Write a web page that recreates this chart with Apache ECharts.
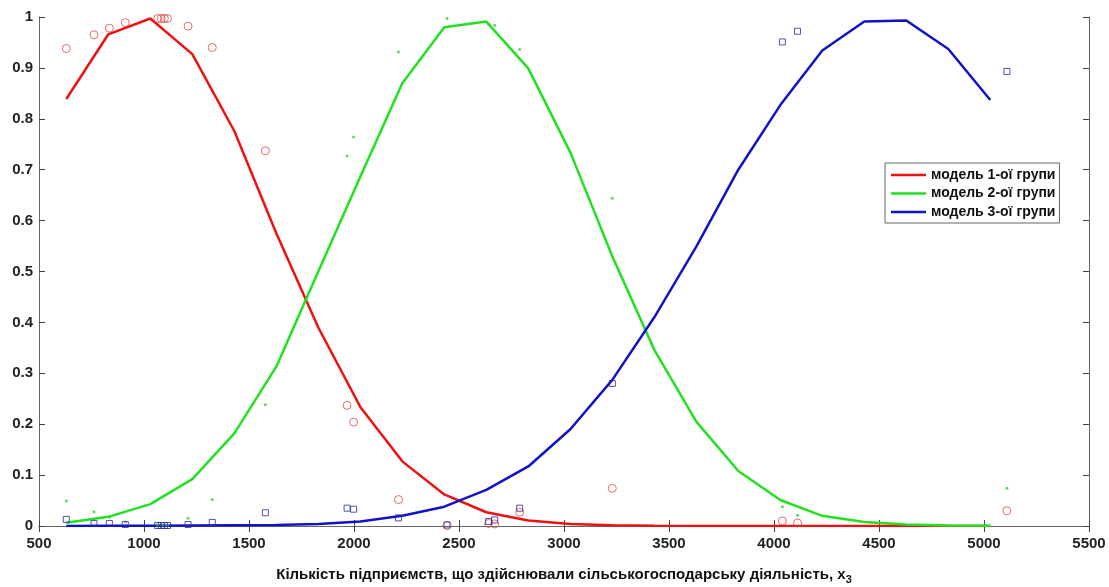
<!DOCTYPE html>
<html>
<head>
<meta charset="utf-8">
<title>model membership</title>
<script src="https://cdn.jsdelivr.net/npm/echarts@6/dist/echarts.min.js"></script>
<style>
  html, body { margin: 0; padding: 0; background: #fff; }
  #chart { width: 1109px; height: 587px; }
</style>
</head>
<body>
<div id="chart"></div>
<script>
// model curves, evaluated on a 200-step grid
var GRID_X = [630, 830, 1030, 1230, 1430, 1630, 1830, 2030, 2230, 2430, 2630, 2830,
  3030, 3230, 3430, 3630, 3830, 4030, 4230, 4430, 4630, 4830, 5030];
var MODEL_1 = [0.839, 0.966, 0.997, 0.927, 0.776, 0.575, 0.390, 0.234, 0.127, 0.062, 0.027, 0.011,
  0.004, 0.0015, 0.0005, 0.0002, 0.0001, 0, 0, 0, 0, 0, 0];
var MODEL_2 = [0.0065, 0.018, 0.043, 0.092, 0.182, 0.313, 0.500, 0.686, 0.870, 0.980, 0.991, 0.899,
  0.734, 0.530, 0.346, 0.205, 0.108, 0.051, 0.020, 0.008, 0.003, 0.001, 0.0005];
var MODEL_3 = [0.0002, 0.0003, 0.0005, 0.001, 0.0015, 0.002, 0.004, 0.009, 0.020, 0.038, 0.071, 0.117,
  0.190, 0.287, 0.410, 0.549, 0.700, 0.827, 0.934, 0.991, 0.993, 0.937, 0.837];

// observed memberships
var OBS_X = [630, 762, 835, 911, 1065, 1082, 1097, 1112, 1210, 1325, 1578, 1967, 1998, 2212,
  2443, 2641, 2670, 2789, 3230, 4040, 4112, 5109];
var OBS_1 = [0.938, 0.965, 0.978, 0.989, 0.997, 0.997, 0.997, 0.997, 0.982, 0.940, 0.737, 0.237,
  0.204, 0.052, 0.001, 0.005, 0.004, 0.027, 0.074, 0.010, 0.006, 0.030];
var OBS_2 = [0.049, 0.028, 0.017, 0.008, 0.002, 0.002, 0.002, 0.002, 0.015, 0.052, 0.238, 0.727,
  0.764, 0.931, 0.997, 0.986, 0.984, 0.936, 0.644, 0.038, 0.021, 0.074];
var OBS_3 = [0.013, 0.005, 0.005, 0.003, 0.001, 0.001, 0.001, 0.001, 0.003, 0.007, 0.026, 0.035,
  0.033, 0.016, 0.002, 0.009, 0.012, 0.035, 0.280, 0.951, 0.972, 0.893];

var SERIES_NAMES = ['модель 1-ої групи', 'модель 2-ої групи', 'модель 3-ої групи'];
var X_NAME = 'Кількість підприємств, що здійснювали сільськогосподарську діяльність, x{s|3}';

var FONT = 'Liberation Sans, Arial, sans-serif';
var RED = '#ee1111', GREEN = '#22e022', BLUE = '#1212c8';

function pairs(xs, ys) {
  return xs.map(function (x, i) { return [x, ys[i]]; });
}

var chart = echarts.init(document.getElementById('chart'), null, { renderer: 'canvas' });

var tickStyle = { inside: true, length: 6, lineStyle: { color: '#444', width: 1 } };
var lineAx = { lineStyle: { color: '#666', width: 1 } };
var labelStyle = { fontFamily: FONT, fontWeight: 'bold', fontSize: 15, color: '#222' };

function modelLine(name, data, color) {
  return {
    name: name, type: 'line', data: data, symbol: 'none', z: 3,
    lineStyle: { color: color, width: 2.5 }, itemStyle: { color: color }
  };
}

chart.setOption({
  animation: false,
  backgroundColor: '#fff',
  grid: { left: 39, right: 20, top: 17, bottom: 61, containLabel: false, outerBoundsMode: 'none' },
  legend: {
    data: SERIES_NAMES,
    orient: 'vertical',
    left: 885, top: 163,
    icon: 'rect', itemWidth: 35, itemHeight: 2.5, itemGap: 4.5,
    padding: [5, 4, 4, 6],
    borderColor: '#666', borderWidth: 1, backgroundColor: '#fff',
    textStyle: { fontFamily: FONT, fontWeight: 'bold', fontSize: 14, color: '#111', lineHeight: 14 }
  },
  xAxis: [{
    type: 'value', min: 500, max: 5500, interval: 500,
    axisLine: lineAx, axisTick: tickStyle, splitLine: { show: false },
    axisLabel: Object.assign({ margin: 10, formatter: function (v) { return String(v); } }, labelStyle),
    name: X_NAME, nameLocation: 'middle', nameGap: 39,
    nameTextStyle: {
      fontFamily: FONT, fontWeight: 'bold', fontSize: 15, color: '#111',
      rich: { s: { fontFamily: FONT, fontWeight: 'bold', fontSize: 11, color: '#111', padding: [9, 0, 0, 0] } }
    }
  }, {
    type: 'value', position: 'top', min: 500, max: 5500, interval: 500,
    axisLine: lineAx, axisTick: tickStyle, axisLabel: { show: false }, splitLine: { show: false }
  }],
  yAxis: [{
    type: 'value', min: 0, max: 1, interval: 0.1,
    axisLine: lineAx, axisTick: tickStyle, splitLine: { show: false },
    axisLabel: Object.assign({ margin: 6 }, labelStyle)
  }, {
    type: 'value', position: 'right', min: 0, max: 1, interval: 0.1,
    axisLine: lineAx, axisTick: tickStyle, axisLabel: { show: false }, splitLine: { show: false }
  }],
  series: [
    modelLine(SERIES_NAMES[0], pairs(GRID_X, MODEL_1), RED),
    modelLine(SERIES_NAMES[1], pairs(GRID_X, MODEL_2), GREEN),
    modelLine(SERIES_NAMES[2], pairs(GRID_X, MODEL_3), BLUE),
    {
      name: 'obs1', type: 'scatter', data: pairs(OBS_X, OBS_1), z: 4,
      symbol: 'circle', symbolSize: 8,
      itemStyle: { color: 'rgba(0,0,0,0)', borderColor: '#d84848', borderWidth: 1 }
    },
    {
      name: 'obs2', type: 'scatter', data: pairs(OBS_X, OBS_2), z: 4,
      symbol: 'circle', symbolSize: 3,
      itemStyle: { color: '#3ad03a' }
    },
    {
      name: 'obs3', type: 'scatter', data: pairs(OBS_X, OBS_3), z: 4,
      symbol: 'rect', symbolSize: 6,
      itemStyle: { color: 'rgba(0,0,0,0)', borderColor: '#2b2b9a', borderWidth: 1 }
    }
  ]
});
</script>
</body>
</html>
